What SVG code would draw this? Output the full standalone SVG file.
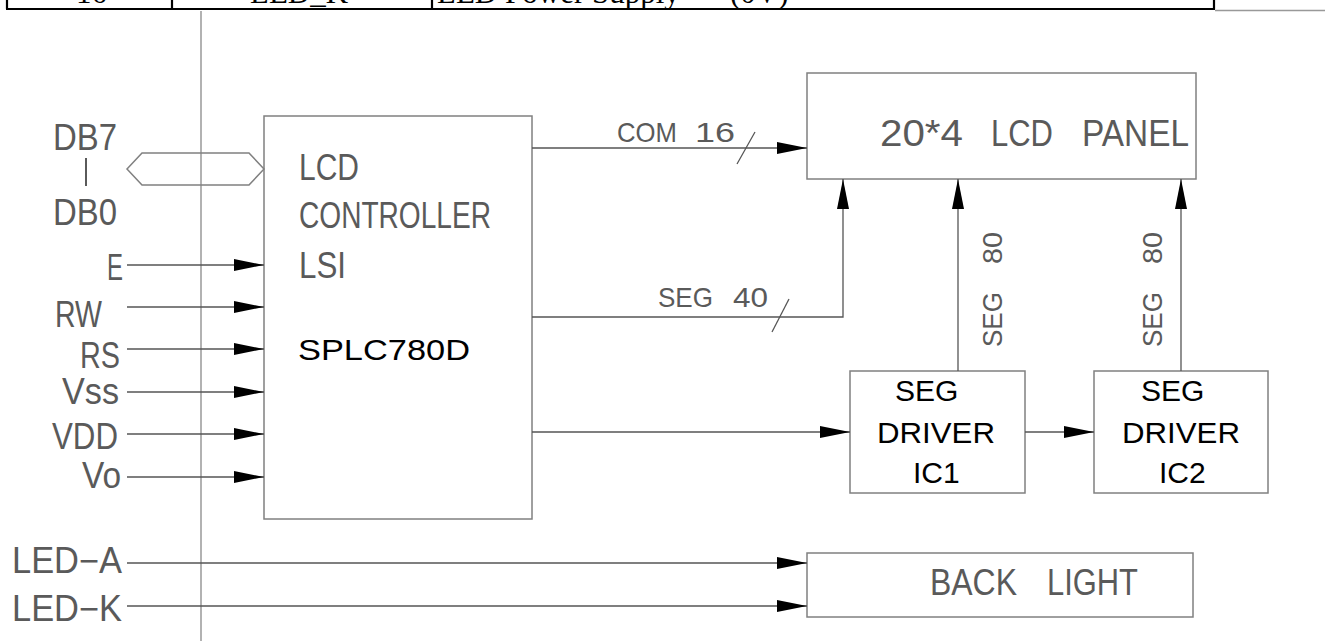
<svg xmlns="http://www.w3.org/2000/svg" width="1325" height="641" viewBox="0 0 1325 641">
<style>
.box{fill:none;stroke:#808080;stroke-width:1.5}
.wire{fill:none;stroke:#555;stroke-width:1.3}
.cad{font-family:"Liberation Sans",Arial,sans-serif;fill:#5a5a5a;font-size:36px}
.cads{font-family:"Liberation Sans",Arial,sans-serif;fill:#5a5a5a;font-size:28px}
.ic{font-family:"Liberation Sans",Arial,sans-serif;fill:#000;font-size:30px}
.tbl{font-family:"Liberation Serif","Times New Roman",serif;fill:#000;font-size:31px}
</style>
<defs>
<marker id="ah" markerUnits="userSpaceOnUse" markerWidth="30" markerHeight="12" refX="30" refY="6" orient="auto">
<path d="M0,0 L30,6 L0,12 z" fill="#000"/>
</marker>
</defs>
<rect width="1325" height="641" fill="#fff"/>
<g id="table-row">
<text class="tbl" x="76" y="3">16</text>
<text class="tbl" x="250" y="3">LED_K</text>
<text class="tbl" x="437" y="3">LED Power Supply<tspan x="730">(0V)</tspan></text>
<path d="M7,0 V9 M172,0 V9 M432,0 V9 M1214,0 V9 M6,9 H1215" stroke="#000" stroke-width="2.2" fill="none"/>
<path d="M1215,10.5 H1325" stroke="#999" stroke-width="1.5"/>
</g>
<g id="margin"><path d="M201,11 V641" stroke="#999" stroke-width="1.5"/></g>
<g id="labels">
<text class="cad" x="53" y="150" textLength="64" lengthAdjust="spacingAndGlyphs">DB7</text>
<path d="M86,158 V186" stroke="#5a5a5a" stroke-width="2"/>
<text class="cad" x="53" y="225" textLength="64" lengthAdjust="spacingAndGlyphs">DB0</text>
<text class="cad" x="107" y="280" textLength="16" lengthAdjust="spacingAndGlyphs">E</text>
<text class="cad" x="55" y="327" textLength="47" lengthAdjust="spacingAndGlyphs">RW</text>
<text class="cad" x="80" y="368" textLength="40" lengthAdjust="spacingAndGlyphs">RS</text>
<text class="cad" x="62" y="404" font-size="34" textLength="57" lengthAdjust="spacingAndGlyphs">Vss</text>
<text class="cad" x="52" y="449" textLength="66" lengthAdjust="spacingAndGlyphs">VDD</text>
<text class="cad" x="82" y="488" textLength="39" lengthAdjust="spacingAndGlyphs">Vo</text>
<text class="cad" x="12" y="573" textLength="110" lengthAdjust="spacingAndGlyphs">LED−A</text>
<text class="cad" x="12" y="621" textLength="110" lengthAdjust="spacingAndGlyphs">LED−K</text>
</g>
<g id="controller">
<rect class="box" x="264" y="116" width="268" height="403"/>
<text class="cad" x="299" y="180" textLength="60" lengthAdjust="spacingAndGlyphs">LCD</text>
<text class="cad" x="299" y="228" textLength="192" lengthAdjust="spacingAndGlyphs">CONTROLLER</text>
<text class="cad" x="299" y="278" textLength="47" lengthAdjust="spacingAndGlyphs">LSI</text>
<text class="ic" x="298" y="360" font-size="34" textLength="172" lengthAdjust="spacingAndGlyphs">SPLC780D</text>
</g>
<g id="lcd-panel">
<rect class="box" x="807" y="73" width="389" height="106"/>
<text class="cad" y="146" font-size="37"><tspan x="880" textLength="83" lengthAdjust="spacingAndGlyphs">20*4</tspan> <tspan x="991" textLength="62" lengthAdjust="spacingAndGlyphs">LCD</tspan> <tspan x="1082" textLength="107" lengthAdjust="spacingAndGlyphs">PANEL</tspan></text>
</g>
<g id="seg-driver-1">
<rect class="box" x="850" y="371" width="175" height="122"/>
<text class="ic" x="895" y="401">SEG</text>
<text class="ic" x="877" y="443" textLength="118" lengthAdjust="spacingAndGlyphs">DRIVER</text>
<text class="ic" x="913" y="483">IC1</text>
</g>
<g id="seg-driver-2">
<rect class="box" x="1094" y="371" width="174" height="122"/>
<text class="ic" x="1141" y="401">SEG</text>
<text class="ic" x="1122" y="443" textLength="118" lengthAdjust="spacingAndGlyphs">DRIVER</text>
<text class="ic" x="1159" y="483">IC2</text>
</g>
<g id="back-light">
<rect class="box" x="807" y="553" width="386" height="64"/>
<text class="cad" y="595"><tspan x="930" textLength="87" lengthAdjust="spacingAndGlyphs">BACK</tspan> <tspan x="1047" textLength="91" lengthAdjust="spacingAndGlyphs">LIGHT</tspan></text>
</g>
<g id="connectors">
<path class="box" d="M127,169 L142,153 H249 L264,169 L249,185 H142 Z"/>
<path class="wire" d="M127,265 H264" marker-end="url(#ah)"/>
<path class="wire" d="M127,307 H264" marker-end="url(#ah)"/>
<path class="wire" d="M127,349 H264" marker-end="url(#ah)"/>
<path class="wire" d="M127,392 H264" marker-end="url(#ah)"/>
<path class="wire" d="M127,434 H264" marker-end="url(#ah)"/>
<path class="wire" d="M127,477 H264" marker-end="url(#ah)"/>
<path class="wire" d="M532,148 H807" marker-end="url(#ah)"/>
<path class="wire" d="M737,164 L755,132"/>
<text class="cads" y="142"><tspan x="617" textLength="60" lengthAdjust="spacingAndGlyphs">COM</tspan> <tspan x="695" textLength="40" lengthAdjust="spacingAndGlyphs">16</tspan></text>
<path class="wire" d="M532,317 H843 V179" marker-end="url(#ah)"/>
<path class="wire" d="M772,332 L789,299"/>
<text class="cads" y="307"><tspan x="658" textLength="55" lengthAdjust="spacingAndGlyphs">SEG</tspan> <tspan x="733" textLength="35" lengthAdjust="spacingAndGlyphs">40</tspan></text>
<path class="wire" d="M958,371 V179" marker-end="url(#ah)"/>
<text class="cads" transform="translate(1002,347) rotate(-90)" y="0"><tspan x="0" textLength="55" lengthAdjust="spacingAndGlyphs">SEG</tspan> <tspan x="83" textLength="32" lengthAdjust="spacingAndGlyphs">80</tspan></text>
<path class="wire" d="M1181,371 V179" marker-end="url(#ah)"/>
<text class="cads" transform="translate(1162,347) rotate(-90)" y="0"><tspan x="0" textLength="55" lengthAdjust="spacingAndGlyphs">SEG</tspan> <tspan x="83" textLength="32" lengthAdjust="spacingAndGlyphs">80</tspan></text>
<path class="wire" d="M532,432 H850" marker-end="url(#ah)"/>
<path class="wire" d="M1025,432 H1094" marker-end="url(#ah)"/>
<path class="wire" d="M127,563 H807" marker-end="url(#ah)"/>
<path class="wire" d="M127,606 H807" marker-end="url(#ah)"/>
</g>
</svg>
